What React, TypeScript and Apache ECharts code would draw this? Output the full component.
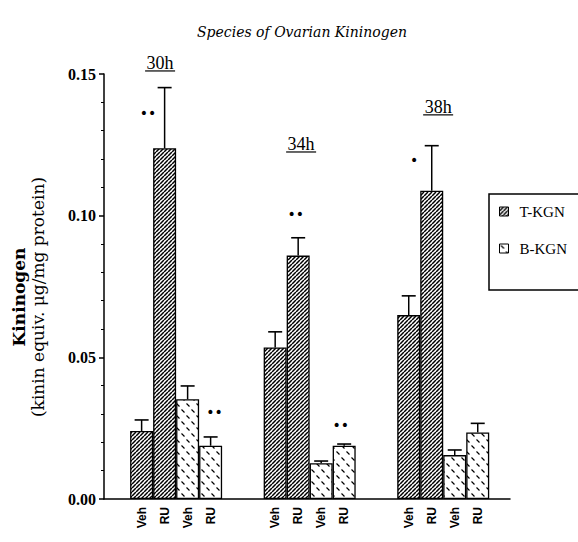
import React, { useEffect, useRef } from 'react';
import * as echarts from 'echarts';

// ---- data ----
const groups = ['30h', '34h', '38h'];
const treatments = ['Veh', 'RU', 'Veh', 'RU'];
const speciesNames = ['T-KGN', 'B-KGN'];
const barSpecies = ['T-KGN', 'T-KGN', 'B-KGN', 'B-KGN'];

const tKgnVeh = [0.024, 0.0535, 0.0649];
const tKgnRU = [0.1238, 0.0859, 0.1088];
const bKgnVeh = [0.0352, 0.0126, 0.0155];
const bKgnRU = [0.0188, 0.0188, 0.0235];

const tKgnVehErr = [0.0039, 0.0055, 0.0068];
const tKgnRUErr = [0.0214, 0.0063, 0.0159];
const bKgnVehErr = [0.0047, 0.0008, 0.0018];
const bKgnRUErr = [0.0031, 0.0006, 0.0032];

const yTicks = [0, 0.05, 0.1, 0.15];

// significance marks: x (group axis units), level (data units), text
const markX = [-0.21, 0.288, 0.895, 1.232, 1.782];
const markLevel = [0.1362, 0.0307, 0.1006, 0.0261, 0.1197];
const markText = ['••', '••', '••', '••', '•'];

// group captions placement (data units)
const groupLabelX = [-0.12, 0.936, 1.962];
const groupLabelLevel = [0.1539, 0.1253, 0.1384];

const BAR_W = 23;

function makeHatch() {
  const c = document.createElement('canvas');
  c.width = 4;
  c.height = 4;
  const ctx = c.getContext('2d')!;
  ctx.fillStyle = '#fff';
  ctx.fillRect(0, 0, 4, 4);
  ctx.strokeStyle = '#000';
  ctx.lineWidth = 1.5;
  for (const x0 of [-4, 0, 4]) {
    ctx.beginPath();
    ctx.moveTo(x0, 4);
    ctx.lineTo(x0 + 4, 0);
    ctx.stroke();
  }
  return c;
}

function makeDash() {
  const c = document.createElement('canvas');
  c.width = 10;
  c.height = 12;
  const ctx = c.getContext('2d')!;
  ctx.fillStyle = '#fff';
  ctx.fillRect(0, 0, 10, 12);
  ctx.strokeStyle = '#000';
  ctx.lineWidth = 1.2;
  ctx.beginPath();
  ctx.moveTo(1.5, 1.5);
  ctx.lineTo(4.5, 4.5);
  ctx.moveTo(6.5, 7.5);
  ctx.lineTo(9.5, 10.5);
  ctx.stroke();
  return c;
}

export default function App() {
  const ref = useRef<HTMLDivElement>(null);
  useEffect(() => {
    if (!ref.current) return;
    const chart = echarts.init(ref.current, undefined, { renderer: 'svg' });
    const hatch = { image: makeHatch(), repeat: 'repeat' };
    const dash = { image: makeDash(), repeat: 'repeat' };

    const values = [tKgnVeh, tKgnRU, bKgnVeh, bKgnRU];
    const errs = [tKgnVehErr, tKgnRUErr, bKgnVehErr, bKgnRUErr];

    const barSeries = values.map((vals, k) => ({
      type: 'bar',
      name: barSpecies[k],
      data: vals.map((v, i) => [i, v]),
      barWidth: BAR_W,
      barGap: '0%',
      silent: true,
      itemStyle: {
        color: k < 2 ? hatch : dash,
        borderColor: '#000',
        borderWidth: 1.3,
      },
      z: 2,
    }));

    const errData: number[][] = [];
    values.forEach((vals, k) =>
      vals.forEach((v, i) => errData.push([i, k, v, errs[k][i]]))
    );

    const errSeries = {
      type: 'custom',
      silent: true,
      z: 3,
      encode: { x: 0, y: 2 },
      data: errData,
      renderItem: (params: any, api: any) => {
        const g = api.value(0);
        const k = api.value(1);
        const v = api.value(2);
        const e = api.value(3);
        const base = api.coord([g, v]);
        const top = api.coord([g, v + e]);
        const cx = base[0] + (k - 1.5) * BAR_W;
        return {
          type: 'group',
          children: [
            {
              type: 'line',
              shape: { x1: cx, y1: base[1], x2: cx, y2: top[1] },
              style: { stroke: '#000', lineWidth: 1.5 },
            },
            {
              type: 'line',
              shape: { x1: cx - 7, y1: top[1], x2: cx + 7, y2: top[1] },
              style: { stroke: '#000', lineWidth: 1.6 },
            },
          ],
        };
      },
    };

    const markSeries = {
      type: 'custom',
      silent: true,
      z: 4,
      data: markX.map((x, i) => [x, markLevel[i]]),
      renderItem: (params: any, api: any) => {
        const p = api.coord([api.value(0), api.value(1)]);
        return {
          type: 'text',
          x: p[0],
          y: p[1],
          style: {
            text: markText[params.dataIndex],
            align: 'center',
            verticalAlign: 'middle',
            fontFamily: 'DejaVu Sans',
            fontSize: 14,
            fill: '#000',
          },
        };
      },
    };

    const groupLabelSeries = {
      type: 'custom',
      silent: true,
      z: 4,
      data: groupLabelX.map((x, i) => [x, groupLabelLevel[i]]),
      renderItem: (params: any, api: any) => {
        const p = api.coord([api.value(0), api.value(1)]);
        return {
          type: 'group',
          children: [
            {
              type: 'text',
              x: p[0],
              y: p[1],
              style: {
                text: groups[params.dataIndex],
                align: 'center',
                verticalAlign: 'middle',
                fontFamily: 'Liberation Serif',
                fontSize: 18,
                fill: '#000',
              },
            },
            {
              type: 'line',
              shape: { x1: p[0] - 15, y1: p[1] + 8, x2: p[0] + 15, y2: p[1] + 8 },
              style: { stroke: '#000', lineWidth: 1.2 },
            },
          ],
        };
      },
    };

    chart.setOption({
      animation: false,
      backgroundColor: '#fff',
      title: {
        text: 'Species of Ovarian Kininogen',
        left: 197,
        top: 25,
        padding: 0,
        textStyle: {
          fontFamily: 'DejaVu Serif',
          fontStyle: 'italic',
          fontWeight: 'normal',
          fontSize: 14,
          color: '#000',
        },
      },
      legend: {
        data: speciesNames,
        orient: 'vertical',
        left: 489,
        top: 204,
        padding: [0, 0, 0, 10],
        itemGap: 22,
        itemWidth: 9,
        itemHeight: 9,
        icon: 'rect',
        borderWidth: 0,
        selectedMode: false,
        itemStyle: { borderColor: '#000', borderWidth: 1 },
        textStyle: {
          fontFamily: 'Liberation Serif',
          fontSize: 15,
          color: '#000',
          padding: [0, 0, 0, 6],
        },
      },
      grid: { left: 104, right: 68, top: 74, bottom: 43 },
      xAxis: {
        type: 'value',
        min: -0.54,
        max: 2.5,
        splitLine: { show: false },
        axisTick: { show: false },
        axisLine: { show: true, lineStyle: { color: '#000', width: 1.5 } },
        axisLabel: {
          customValues: [0, 1, 2],
          formatter: () => treatments.join('\n'),
          rotate: 90,
          lineHeight: 23,
          margin: 8,
          fontFamily: 'Liberation Sans',
          fontWeight: 'bold',
          fontSize: 12,
          color: '#000',
        },
      },
      yAxis: {
        type: 'value',
        min: yTicks[0],
        max: yTicks[yTicks.length - 1],
        interval: yTicks[1] - yTicks[0],
        splitLine: { show: false },
        axisLine: { show: true, onZero: false, lineStyle: { color: '#000', width: 1.5 } },
        axisTick: { show: true, length: 5, lineStyle: { color: '#000', width: 1.5 } },
        minorTick: { show: true, splitNumber: 5, length: 3, lineStyle: { color: '#000', width: 1 } },
        axisLabel: {
          formatter: (v: number) => v.toFixed(2),
          margin: 8,
          fontFamily: 'Liberation Serif',
          fontWeight: 'bold',
          fontSize: 16,
          color: '#000',
        },
      },
      graphic: [
        {
          type: 'rect',
          shape: { x: 489, y: 194, width: 100, height: 96 },
          style: { fill: 'none', stroke: '#000', lineWidth: 1.5 },
          silent: true,
        },
        {
          type: 'text',
          x: 28,
          y: 297,
          rotation: Math.PI / 2,
          style: {
            text: '{a|Kininogen}\n{b|(kinin equiv. μg/mg protein)}',
            align: 'center',
            verticalAlign: 'middle',
            rich: {
              a: { fontFamily: 'DejaVu Serif', fontWeight: 'bold', fontSize: 17, lineHeight: 19, fill: '#000' },
              b: { fontFamily: 'DejaVu Serif', fontSize: 17, lineHeight: 19, fill: '#000' },
            },
          },
        },
      ],
      series: [...barSeries, errSeries, markSeries, groupLabelSeries],
    });
    return () => chart.dispose();
  }, []);
  return (
    <div
      ref={ref}
      style={{ position: 'fixed', left: 0, top: 0, width: 578, height: 542, background: '#fff' }}
    />
  );
}
